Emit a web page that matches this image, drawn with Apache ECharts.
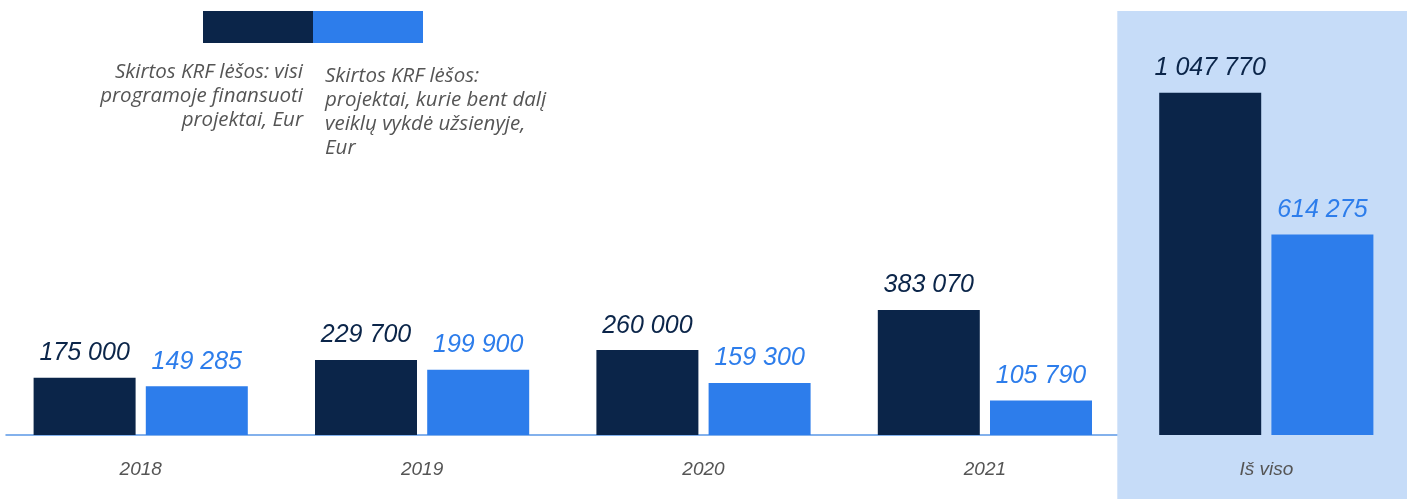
<!DOCTYPE html>
<html>
<head>
<meta charset="utf-8">
<script src="https://cdn.jsdelivr.net/npm/echarts@6/dist/echarts.min.js"></script>
<style>
  html, body { margin: 0; padding: 0; background: #ffffff; }
  #chart { width: 1423px; height: 499px; }
</style>
</head>
<body>
<div id="chart"></div>
<script>
// Categories and values (Eur)
const categories = ['2018', '2019', '2020', '2021', 'Iš viso'];
const allProjects = [175000, 229700, 260000, 383070, 1047770];
const abroadProjects = [149285, 199900, 159300, 105790, 614275];
const seriesNames = [
  'Skirtos KRF lėšos: visi programoje finansuoti projektai, Eur',
  'Skirtos KRF lėšos: projektai, kurie bent dalį veiklų vykdė užsienyje, Eur'
];
const legendLines = [
  'Skirtos KRF lėšos: visi\nprogramoje finansuoti\nprojektai, Eur',
  'Skirtos KRF lėšos:\nprojektai, kurie bent dalį\nveiklų vykdė užsienyje,\nEur'
];
// The total column gets a highlighted band
const totalBand = ['-', '-', '-', '-', 1];

const DARK = '#0b2549';
const LIGHT = '#2d7deb';
const BAND = '#c6dcf8';
const AXIS = '#5b98e6';
const GREY = '#555555';
const NUM_FONT = '"Liberation Sans", Arial, sans-serif';
const TEXT_FONT = '"Open Sans", "Noto Sans", sans-serif';

const fmt = v => String(v).replace(/\B(?=(\d{3})+(?!\d))/g, ' ');

const chart = echarts.init(document.getElementById('chart'), null, { renderer: 'canvas' });

chart.setOption({
  animation: false,
  backgroundColor: '#ffffff',
  grid: [
    { left: -4, width: 1411, top: 35, bottom: 64 },   // bars
    { left: -4, width: 1411, top: 11, bottom: 0 },    // highlight band
    { left: 6, right: 25, top: 35, bottom: 64 }       // baseline
  ],
  xAxis: [
    {
      type: 'category', gridIndex: 0, data: categories,
      axisLine: { show: false }, axisTick: { show: false },
      axisLabel: { margin: 25, color: GREY, fontFamily: NUM_FONT, fontStyle: 'italic', fontSize: 19 }
    },
    { type: 'category', gridIndex: 1, data: categories, show: false },
    {
      type: 'category', gridIndex: 2, data: [''],
      axisLine: { show: true, lineStyle: { color: AXIS, width: 1.5 } },
      axisTick: { show: false }, axisLabel: { show: false }
    }
  ],
  yAxis: [
    { type: 'value', gridIndex: 0, min: 0, max: 1225000, show: false },
    { type: 'value', gridIndex: 1, min: 0, max: 1, show: false },
    { type: 'value', gridIndex: 2, min: 0, max: 1, show: false }
  ],
  series: [
    {
      type: 'bar', xAxisIndex: 1, yAxisIndex: 1, data: totalBand,
      barWidth: 298, itemStyle: { color: BAND }, z: 0, silent: true
    },
    {
      name: seriesNames[0], type: 'bar', xAxisIndex: 0, yAxisIndex: 0,
      data: allProjects, barWidth: 102, barGap: '10%', z: 2,
      itemStyle: { color: DARK },
      label: {
        show: true, position: 'top', distance: 12, formatter: p => fmt(p.value),
        color: DARK, fontFamily: NUM_FONT, fontStyle: 'italic', fontSize: 25
      }
    },
    {
      name: seriesNames[1], type: 'bar', xAxisIndex: 0, yAxisIndex: 0,
      data: abroadProjects, barWidth: 102, barGap: '10%', z: 2,
      itemStyle: { color: LIGHT },
      label: {
        show: true, position: 'top', distance: 12, formatter: p => fmt(p.value),
        color: LIGHT, fontFamily: NUM_FONT, fontStyle: 'italic', fontSize: 25
      }
    }
  ],
  graphic: [
    { type: 'rect', x: 203, y: 11, shape: { width: 110, height: 32 }, style: { fill: DARK } },
    { type: 'rect', x: 313, y: 11, shape: { width: 110, height: 32 }, style: { fill: LIGHT } },
    {
      type: 'text', x: 303, y: 60,
      style: {
        text: legendLines[0], align: 'right', verticalAlign: 'top', lineHeight: 24,
        fill: GREY, font: 'italic 20.5px ' + TEXT_FONT
      }
    },
    {
      type: 'text', x: 325, y: 64,
      style: {
        text: legendLines[1], align: 'left', verticalAlign: 'top', lineHeight: 24,
        fill: GREY, font: 'italic 20.5px ' + TEXT_FONT
      }
    }
  ]
});
</script>
</body>
</html>
